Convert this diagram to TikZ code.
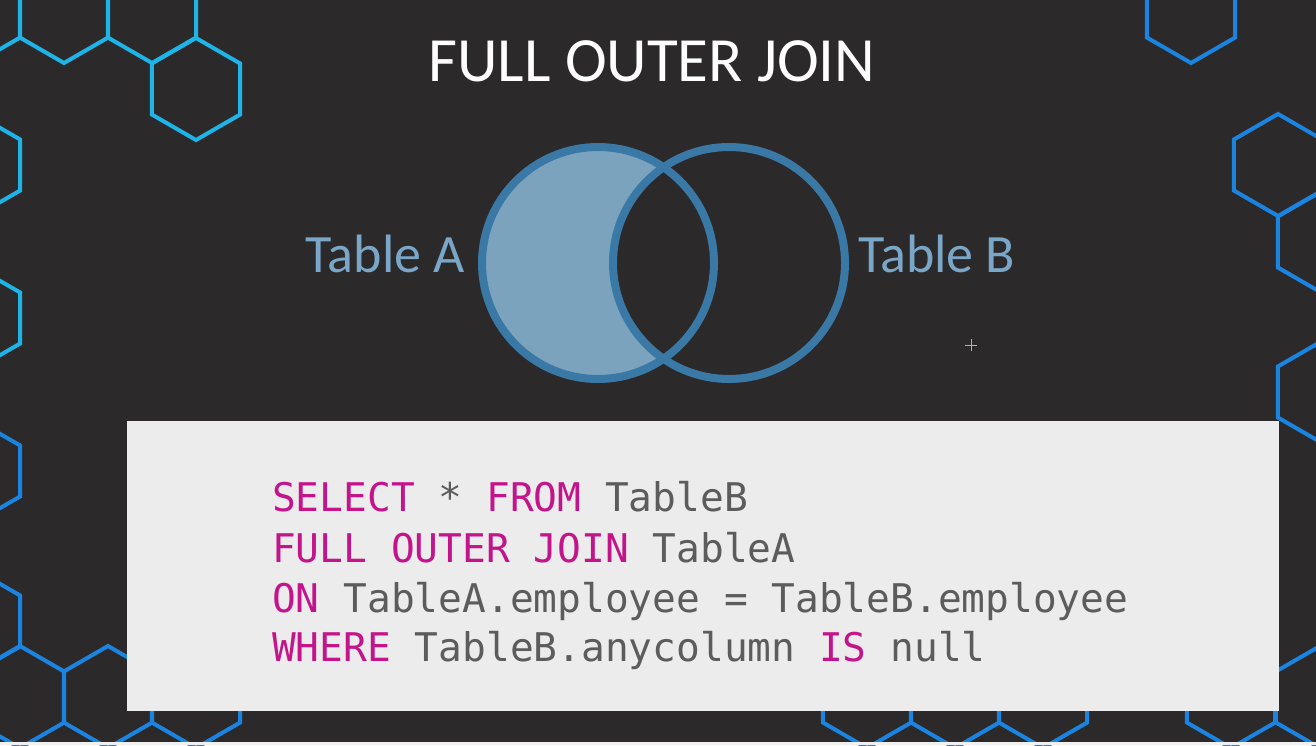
\documentclass[tikz,border=0pt]{standalone}
\usepackage{fontspec}
\setmainfont{Carlito}
\newfontfamily\sqlfont{DejaVu Sans Mono}
\usetikzlibrary{positioning}
\definecolor{bgdark}{RGB}{43,41,41}
\definecolor{hexcyancol}{RGB}{30,180,232}
\definecolor{hexbluecol}{RGB}{27,132,224}
\definecolor{vennring}{RGB}{58,120,166}
\definecolor{vennfill}{RGB}{124,163,190}
\definecolor{tbllabel}{RGB}{122,166,200}
\definecolor{codebg}{RGB}{236,236,236}
\definecolor{sqlkw}{RGB}{196,20,140}
\definecolor{sqltxt}{RGB}{92,92,92}

\begin{document}
\begin{tikzpicture}[x=1pt,y=-1pt,
  hexA/.style={draw=hexcyancol,line width=4pt},
  hexB/.style={draw=hexbluecol,line width=4pt},
  ring/.style={draw=vennring,line width=8pt},
  tbl/.style={text=tbllabel,inner sep=0pt,font=\fontsize{54}{60}\selectfont},
  sql/.style={anchor=base west,inner sep=0pt,text=sqltxt,font=\sqlfont\fontsize{39.5}{48}\selectfont}]
  \useasboundingbox (0,0) rectangle (1316,745);
  \clip (0,0) rectangle (1316,745);
  \fill[bgdark] (0,0) rectangle (1316,745);
  % hexagon pattern
  \foreach \cx/\cy in {-24/12,64/12,152/12,196/89,-24/165,-24/318}
    \draw[hexA] (\cx,\cy) +(90:51) -- +(30:51) -- +(-30:51) -- +(-90:51) -- +(-150:51) -- +(150:51) -- cycle;
  \foreach \cx/\cy in {-24/471,-24/621,20/697,108/697,196/697,1191/12,1278/165,1322/242,1322/392,867/697,955/697,1043/697,1231/697,1320/697}
    \draw[hexB] (\cx,\cy) +(90:51) -- +(30:51) -- +(-30:51) -- +(-90:51) -- +(-150:51) -- +(150:51) -- cycle;
  \fill[gray!12] (0,742) rectangle (1316,745);
  % title
  \node[anchor=base,inner sep=0pt,text=white,font=\fontsize{63}{70}\selectfont] (title) at (652,81) {FULL OUTER JOIN};
  % venn
  \coordinate (ca) at (598,263);
  \coordinate (cb) at (729,263);
  \fill[vennfill] (ca) circle (116);
  \fill[bgdark] (cb) circle (116);
  \draw[ring] (ca) circle (116);
  \draw[ring] (cb) circle (116);
  \node[tbl,anchor=base east] (tblA) at (465,272) {Table A};
  \node[tbl,anchor=base west] (tblB) at (858,272) {Table B};
  \draw[gray!60!white,line width=0.8pt] (965,345) -- (977,345) (971,339) -- (971,351);
  % code box
  \fill[codebg] (127,421) rectangle (1279,711);
  \node[sql] (sql1) at (272,511) {\textcolor{sqlkw}{SELECT} * \textcolor{sqlkw}{FROM} TableB};
  \node[sql] (sql2) at (272,562) {\textcolor{sqlkw}{FULL OUTER JOIN} TableA};
  \node[sql] (sql3) at (272,612) {\textcolor{sqlkw}{ON} TableA.employee = TableB.employee};
  \node[sql] (sql4) at (272,661) {\textcolor{sqlkw}{WHERE} TableB.anycolumn \textcolor{sqlkw}{IS} null};
\end{tikzpicture}
\end{document}
